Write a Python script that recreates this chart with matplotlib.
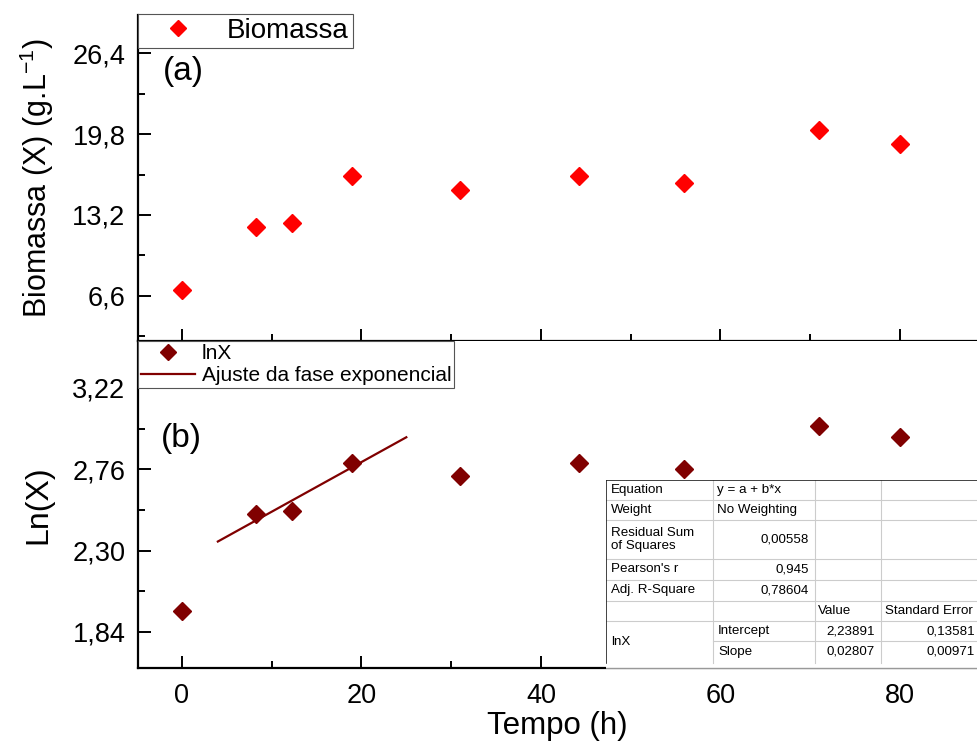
import matplotlib
matplotlib.use("Agg")
import matplotlib.pyplot as plt
from matplotlib.ticker import FuncFormatter, MultipleLocator, FixedLocator

plt.rcParams['font.family'] = ['Liberation Sans', 'DejaVu Sans']
plt.rcParams['mathtext.fontset'] = 'custom'
plt.rcParams['mathtext.rm'] = 'Liberation Sans'
plt.rcParams['mathtext.it'] = 'Liberation Sans'

# data
tempo = [0, 8.3, 12.3, 19, 31, 44.2, 56, 71, 80]
biomassa = [7.09, 12.2, 12.55, 16.4, 15.25, 16.4, 15.8, 20.1, 19.0]
lnx = [1.96, 2.505, 2.525, 2.795, 2.72, 2.795, 2.76, 3.003, 2.94]

# linear fit of the exponential phase
fit_a = 2.23891
fit_b = 0.02807
fit_x = [4, 25]

ticks_top = [6.6, 13.2, 19.8, 26.4]
minor_top = [3.3, 9.9, 16.5, 23.1]
ticks_bot = [1.84, 2.30, 2.76, 3.22]
minor_bot = [1.61, 2.07, 2.53, 2.99, 3.45]

tabela = [
    ("Equation", "y = a + b*x", "l"),
    ("Weight", "No Weighting", "l"),
    ("Residual Sum\nof Squares", "0,00558", "r"),
    ("Pearson's r", "0,945", "r"),
    ("Adj. R-Square", "0,78604", "r"),
]
param_nomes = ["Intercept", "Slope"]
param_vals = ["2,23891", "0,02807"]
param_err = ["0,13581", "0,00971"]

W, H = 977, 745
fig = plt.figure(figsize=(W / 100, H / 100), dpi=100)

def fig_rect(x0, y0, x1, y1):
    return [x0 / W, 1 - y1 / H, (x1 - x0) / W, (y1 - y0) / H]

def virgula(d):
    return FuncFormatter(lambda v, p: (("%." + str(d) + "f") % v).replace(".", ","))

ax1 = fig.add_axes(fig_rect(138, 15, 977, 341))
ax2 = fig.add_axes(fig_rect(138, 341, 977, 668))

for ax in (ax1, ax2):
    ax.spines['top'].set_visible(False)
    ax.spines['right'].set_visible(False)
    ax.spines['left'].set_linewidth(1.6)
    ax.spines['bottom'].set_linewidth(1.6)
    ax.set_xlim(-4.9, 88.6)
    ax.xaxis.set_major_locator(MultipleLocator(20))
    ax.xaxis.set_minor_locator(MultipleLocator(10))
    ax.tick_params(which='both', direction='in', width=1.4, labelsize=19.5)
    ax.tick_params(which='major', length=9)
    ax.tick_params(which='minor', length=5)
    ax.tick_params(axis='y', pad=9)

# top panel
ax1.plot(tempo, biomassa, 'D', color='#ff0000', ms=9, label='Biomassa')
ax1.set_ylim(2.93, 29.5)
ax1.yaxis.set_major_locator(FixedLocator(ticks_top))
ax1.yaxis.set_minor_locator(FixedLocator(minor_top))
ax1.yaxis.set_major_formatter(virgula(1))
ax1.tick_params(axis='x', labelbottom=False)
ax1.set_ylabel("Biomassa (X) (g.L$^{-1}$)", fontsize=22, labelpad=12)
ax1.text(0.03, 0.80, "(a)", transform=ax1.transAxes, fontsize=24)
leg1 = ax1.legend(loc='upper left', bbox_to_anchor=(0, 1.003), borderaxespad=0,
                  fontsize=20, fancybox=False, edgecolor='#555555', framealpha=1,
                  handletextpad=0.45, borderpad=0.15, markerscale=0.9,
                  handlelength=2.6)
leg1.get_frame().set_linewidth(0.8)

# bottom panel
ax2.plot(tempo, lnx, 'D', color='#800000', ms=9, label='lnX')
fit_y = [fit_a + fit_b * x for x in fit_x]
ax2.plot(fit_x, fit_y, '-', color='#800000', lw=1.6, label='Ajuste da fase exponencial')
ax2.set_ylim(1.636, 3.485)
ax2.yaxis.set_major_locator(FixedLocator(ticks_bot))
ax2.yaxis.set_minor_locator(FixedLocator(minor_bot))
ax2.yaxis.set_major_formatter(virgula(2))
ax2.set_ylabel("Ln(X)", fontsize=23, labelpad=14)
ax2.set_xlabel("Tempo (h)", fontsize=22.5, labelpad=1)
ax2.tick_params(axis='x', pad=11)
ax2.text(0.027, 0.675, "(b)", transform=ax2.transAxes, fontsize=24)
leg2 = ax2.legend(loc='upper left', bbox_to_anchor=(0, 1.0), borderaxespad=0,
                  fontsize=15, fancybox=False, edgecolor='#555555', framealpha=1,
                  handlelength=2.6, handletextpad=0.3, borderpad=0.15,
                  labelspacing=0.15, markerscale=0.85)
leg2.get_frame().set_linewidth(0.8)

# results table (inset), drawn over the bottom spine
tx0, tx1, ty0, ty1 = 606, 985, 480, 669
tab = fig.add_axes(fig_rect(tx0, ty0, tx1, ty1), zorder=5)
tab.set_xlim(tx0, tx1)
tab.set_ylim(ty1, ty0)
tab.axis('off')
tab.add_patch(plt.Rectangle((tx0, ty0), tx1 - tx0, ty1 - ty0, color='white', zorder=0))
cols = [606, 713, 815, 881, 985]
rows = [480, 500, 520, 559, 580, 601, 621, 641, 663]
cinza = '#cccccc'
for r in rows[1:-1]:
    x_ini = cols[1] if r == 641 else cols[0]
    tab.plot([x_ini, tx1], [r, r], color=cinza, lw=0.8)
tab.plot([tx0, tx1], [ty1 - 1, ty1 - 1], color='#999999', lw=1.0)
for c in cols[1:4]:
    tab.plot([c, c], [ty0, rows[-1]], color=cinza, lw=0.8)
tab.plot([tx0, tx0], [ty0, rows[-1]], color='#222222', lw=1.2)
tab.plot([tx0, tx1], [ty0, ty0], color='#222222', lw=1.2)
fs = 9.6
for i, (nome, val, al) in enumerate(tabela):
    ym = (rows[i] + rows[i + 1]) / 2
    tab.text(cols[0] + 5, ym, nome, fontsize=fs, va='center', ha='left', linespacing=1.0)
    if al == 'l':
        tab.text(cols[1] + 4, ym, val, fontsize=fs, va='center', ha='left')
    else:
        tab.text(cols[2] - 6, ym, val, fontsize=fs, va='center', ha='right')
tab.text(cols[2] + 3, (rows[5] + rows[6]) / 2, "Value", fontsize=fs, va='center', ha='left')
tab.text(cols[3] + 4, (rows[5] + rows[6]) / 2, "Standard Error", fontsize=fs, va='center', ha='left')
tab.text(cols[0] + 5, (rows[6] + rows[8]) / 2, "lnX", fontsize=fs, va='center', ha='left')
for j in range(2):
    ym = (rows[6 + j] + rows[7 + j]) / 2
    tab.text(cols[1] + 5, ym, param_nomes[j], fontsize=fs, va='center', ha='left')
    tab.text(cols[3] - 6, ym, param_vals[j], fontsize=fs, va='center', ha='right')
    tab.text(975, ym, param_err[j], fontsize=fs, va='center', ha='right')

fig.savefig("out.png", dpi=100)
